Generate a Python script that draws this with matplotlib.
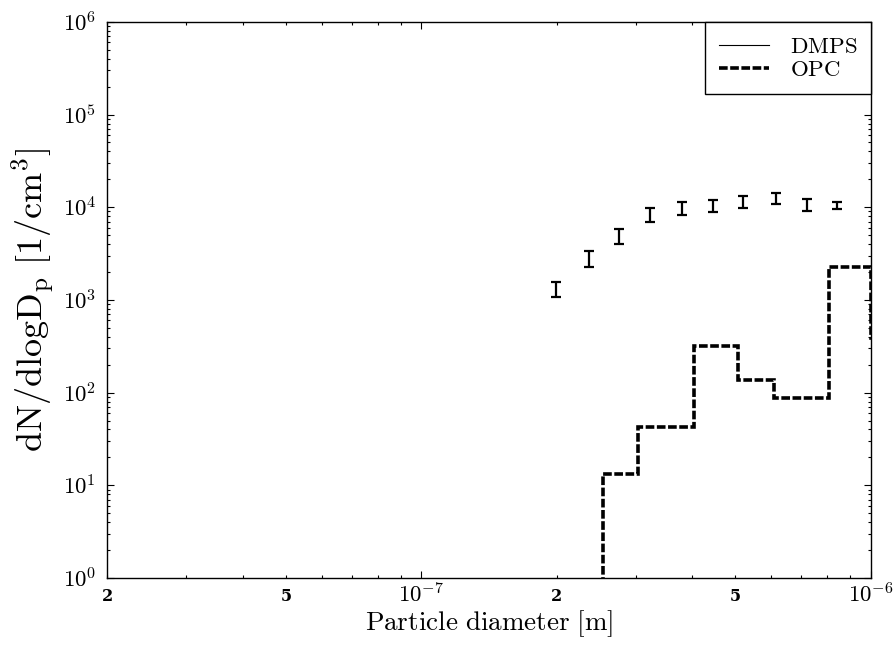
import numpy as np
import matplotlib
matplotlib.use("Agg")
import matplotlib.pyplot as plt
from matplotlib.ticker import FixedLocator, FixedFormatter, LogLocator
from matplotlib.lines import Line2D

plt.rcParams['mathtext.fontset'] = 'cm'
plt.rcParams['font.family'] = 'serif'
plt.rcParams['font.serif'] = ['DejaVu Serif']

# DMPS: Messpunkte mit Fehlerbalken (Durchmesser in m)
dmps_d = [1.99e-7, 2.36e-7, 2.75e-7, 3.22e-7, 3.80e-7, 4.45e-7, 5.19e-7, 6.15e-7, 7.21e-7, 8.41e-7]
dmps_mitte = [1280, 2760, 4890, 8240, 9690, 10300, 11370, 12400, 10570, 10420]
dmps_unten = [1075, 2264, 4010, 6920, 8210, 8830, 9790, 10820, 9080, 9560]
dmps_oben = [1560, 3370, 5820, 9800, 11370, 11960, 13210, 14230, 12250, 11370]

# OPC: Klassengrenzen und Werte (Treppenfunktion)
opc_grenzen = [2.53e-7, 3.03e-7, 4.04e-7, 5.06e-7, 6.08e-7, 8.07e-7, 1.0e-6, 1.2e-6]
opc_werte = [13.2, 42.6, 318, 138, 88, 2264, 390]

fig = plt.figure(figsize=(8.94, 6.52), dpi=100)
ax = fig.add_axes([0.12, 0.1135, 0.854, 0.853])

yerr = [np.array(dmps_mitte) - np.array(dmps_unten), np.array(dmps_oben) - np.array(dmps_mitte)]
ax.errorbar(dmps_d, dmps_mitte, yerr=yerr, fmt='none', ecolor='black',
            elinewidth=1.6, capsize=3.5, capthick=1.6)

ax.stairs(opc_werte, opc_grenzen, baseline=1e-2, color='black',
          linewidth=2.6, linestyle=(0, (2.4, 0.7)))

ax.set_xscale('log')
ax.set_yscale('log')
ax.set_xlim(2e-8, 1e-6)
ax.set_ylim(1, 1e6)

# Achsenbeschriftung
ax.xaxis.set_major_locator(FixedLocator([1e-7, 1e-6]))
ax.xaxis.set_major_formatter(FixedFormatter([r'$10^{-7}$', r'$10^{-6}$']))
minor_x = [k * 1e-8 for k in range(2, 10)] + [k * 1e-7 for k in range(2, 10)]
minor_lab = ['2' if k == 2 else '5' if k == 5 else '' for k in range(2, 10)] * 2
ax.xaxis.set_minor_locator(FixedLocator(minor_x))
ax.xaxis.set_minor_formatter(FixedFormatter(minor_lab))
ax.tick_params(axis='x', which='minor', labelsize=11.5, pad=7)
for t in ax.xaxis.get_minorticklabels():
    t.set_fontweight('bold')

ax.set_yticks([10.0 ** k for k in range(0, 7)])
ax.set_yticklabels([r'$10^{%d}$' % k for k in range(0, 7)])
ax.yaxis.set_minor_locator(LogLocator(base=10, subs=np.arange(2, 10), numticks=10))

ax.tick_params(which='both', direction='in', top=True, right=True, width=0.8)
ax.tick_params(which='major', length=5, labelsize=16.5)
ax.tick_params(axis='x', which='major', pad=4)
ax.tick_params(axis='y', which='major', pad=8)
ax.tick_params(which='minor', length=2.5)

for s in ax.spines.values():
    s.set_linewidth(1.0)

ax.set_xlabel(r'$\mathrm{Particle\ diameter\ [m]}$', fontsize=19.5, labelpad=0)
ax.set_ylabel(r'$\mathrm{dN/dlogD_p\ [1/cm^3]}$', fontsize=26, labelpad=4)

handles = [Line2D([], [], color='black', linewidth=0.8),
           Line2D([], [], color='black', linewidth=2.6, linestyle=(0, (2.4, 0.7)))]
leg = ax.legend(handles, [r'$\mathrm{DMPS}$', r'$\mathrm{OPC}$'], loc='upper right',
                borderaxespad=0, fancybox=False, edgecolor='black', fontsize=16.5,
                handlelength=2.2, handletextpad=0.9, labelspacing=0.05,
                borderpad=0.6, framealpha=1)
leg.get_frame().set_linewidth(1.0)

fig.savefig('out.png', dpi=100)
